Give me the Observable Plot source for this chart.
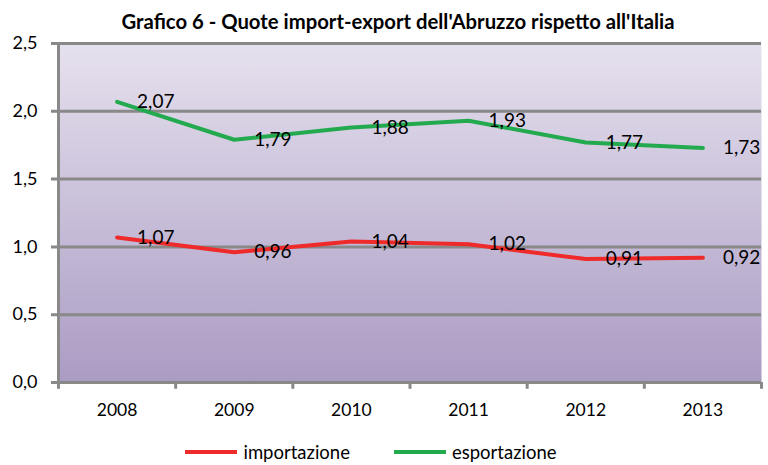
<!DOCTYPE html>
<html><head><meta charset="utf-8">
<script src="https://cdn.jsdelivr.net/npm/d3@7"></script>
<script src="https://cdn.jsdelivr.net/npm/@observablehq/plot@0.6"></script>
<style>
body{margin:0;width:768px;height:465px;background:#fff;position:relative;font-family:Lato,sans-serif;overflow:hidden;color:#000}
#title{position:absolute;left:14px;top:9px;width:768px;text-align:center;font-weight:bold;font-size:20.3px;line-height:24px;z-index:2}
#chart{position:absolute;left:0;top:20px;z-index:1}
#legend{position:absolute;left:0;top:441px;width:742px;display:flex;justify-content:center;align-items:center;font-size:18.5px;line-height:22px}
.item{display:flex;align-items:center;margin:0 22px}
.sw{display:inline-block;width:52px;height:4px;margin-right:6px}
</style></head><body>
<div id="title">Grafico 6 - Quote import-export dell'Abruzzo rispetto all'Italia</div>
<div id="chart"></div>
<div id="legend"></div>
<script>
const years = ["2008","2009","2010","2011","2012","2013"];
const importazione = [1.07,0.96,1.04,1.02,0.91,0.92];
const esportazione = [2.07,1.79,1.88,1.93,1.77,1.73];
const yTicks = [0,0.5,1,1.5,2,2.5];
const seriesNames = ["importazione","esportazione"];
const seriesColors = ["#ee2a2a","#23aa4f"];

const rows = [];
years.forEach((yr,i)=>{
  rows.push({pos:i+0.5, year:yr, value:importazione[i], series:seriesNames[0]});
  rows.push({pos:i+0.5, year:yr, value:esportazione[i], series:seriesNames[1]});
});
const fmt = d => d.toFixed(2).replace(".",",");
const fmtTick = d => d.toFixed(1).replace(".",",");
const bounds = d3.range(years.length+1);

const plot = Plot.plot({
  width:768,height:416,marginTop:23,marginBottom:54,marginLeft:58,marginRight:7,
  style:{fontFamily:"Lato, sans-serif",fontSize:"17px",color:"#000",background:"transparent"},
  x:{type:"linear",domain:[0,years.length],label:null},
  y:{domain:[0,2.5],label:null},
  color:{domain:seriesNames,range:seriesColors},
  marks:[
    Plot.frame({fill:"url(#bg)",stroke:"none"}),
    Plot.ruleY(yTicks,{x1:-0.06,x2:years.length,stroke:"#898989",strokeWidth:3}),
    Plot.ruleX([0],{y1:0,y2:2.5,stroke:"#898989",strokeWidth:3}),
    Plot.ruleX(bounds,{y1:0,y2:-0.05,stroke:"#898989",strokeWidth:3}),
    Plot.axisY(yTicks,{tickSize:0,tickPadding:21,tickFormat:fmtTick,fontSize:18,label:null}),
    Plot.axisX(years.map((d,i)=>i+0.5),{tickSize:0,tickPadding:21,tickFormat:d=>years[Math.floor(d)],fontSize:17.5,label:null}),
    Plot.lineY(rows,{x:"pos",y:"value",z:"series",stroke:"series",strokeWidth:4}),
    Plot.text(rows,{x:"pos",y:"value",text:d=>fmt(d.value),dx:20,textAnchor:"start",lineAnchor:"middle",fontSize:19,fill:"#000"})
  ]
});
const svg = d3.select(plot);
const grad = svg.insert("defs",":first-child").append("linearGradient")
  .attr("id","bg").attr("x1",0).attr("y1",0).attr("x2",0).attr("y2",1);
grad.append("stop").attr("offset","0%").attr("stop-color","#e6e1ee");
grad.append("stop").attr("offset","100%").attr("stop-color","#aa9bc3");
document.getElementById("chart").appendChild(plot);

const legend = d3.select("#legend");
seriesNames.forEach((n,i)=>{
  const it = legend.append("div").attr("class","item");
  it.append("span").attr("class","sw").style("background",seriesColors[i]);
  it.append("span").text(n);
});
</script>
</body></html>
